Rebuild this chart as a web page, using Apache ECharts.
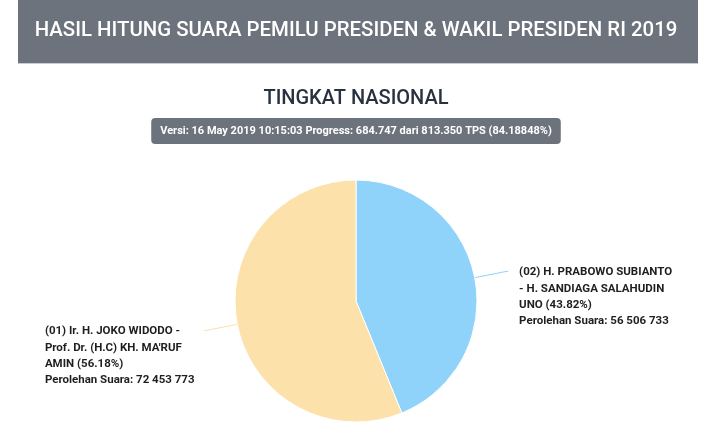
<!DOCTYPE html>
<html>
<head>
<meta charset="utf-8">
<script src="https://cdn.jsdelivr.net/npm/echarts@6/dist/echarts.min.js"></script>
<style>html,body{margin:0;padding:0;background:#fff;}#c{width:712px;height:435px;}</style>
</head>
<body>
<div id="c"></div>
<script>
const headerTitle = 'HASIL HITUNG SUARA PEMILU PRESIDEN & WAKIL PRESIDEN RI 2019';
const subTitle = 'TINGKAT NASIONAL';
const versionText = 'Versi: 16 May 2019 10:15:03 Progress: 684.747 dari 813.350 TPS (84.18848%)';
const candidateNames = [
  '(02) H. PRABOWO SUBIANTO\n- H. SANDIAGA SALAHUDIN\nUNO',
  "(01) Ir. H. JOKO WIDODO -\nProf. Dr. (H.C) KH. MA'RUF\nAMIN"
];
const candidateVotes = [56506733, 72453773];
const sliceColors = ['#8fd3fb', '#fde1ab'];

function fmtNum(n) {
  return String(n).replace(/\B(?=(\d{3})+(?!\d))/g, ' ');
}

const chart = echarts.init(document.getElementById('c'));
chart.setOption({
  backgroundColor: '#ffffff',
  animation: false,
  graphic: [
    { type: 'rect', shape: { x: 18, y: 0, width: 680, height: 63 }, style: { fill: '#6c737c' } },
    { type: 'rect', shape: { x: 18, y: 63, width: 680, height: 1 }, style: { fill: '#c9cdd1' } },
    { type: 'text', x: 356, y: 31, style: { text: headerTitle, fill: '#ffffff', font: '500 20.4px Roboto', align: 'center', verticalAlign: 'middle' } }
  ],
  title: [
    { text: subTitle, left: 'center', top: 84, textStyle: { fontFamily: 'Roboto', fontSize: 20, fontWeight: 500, color: '#28313e' } },
    { text: versionText, left: 'center', top: 118, backgroundColor: '#6c737c', borderRadius: 4, padding: [7, 9],
      textStyle: { fontFamily: 'Roboto', fontSize: 11, fontWeight: 'bold', color: '#ffffff', lineHeight: 12 } }
  ],
  series: [{
    type: 'pie',
    center: [356, 301],
    radius: 121,
    startAngle: 90,
    clockwise: true,
    avoidLabelOverlap: false,
    itemStyle: { borderColor: '#ffffff', borderWidth: 1 },
    label: {
      show: true,
      distanceToLabelLine: 11,
      padding: [51, 0, 0, 0],
      formatter: function (p) {
        const lines = p.name.split('\n');
        lines[lines.length - 1] += ' (' + p.percent.toFixed(2) + '%)';
        lines.push('Perolehan Suara: ' + fmtNum(p.value));
        return lines.map(l => '{a|' + l + '}').join('\n');
      },
      rich: {
        a: { width: 148, align: 'left', fontFamily: 'Roboto', fontSize: 11.5, fontWeight: 'bold', color: '#1f1f1f', lineHeight: 16.3 }
      }
    },
    labelLine: { show: true, length: 32, length2: 2, lineStyle: { width: 1 } },
    data: candidateNames.map((n, i) => ({ name: n, value: candidateVotes[i], itemStyle: { color: sliceColors[i] } }))
  }]
});
</script>
</body>
</html>
